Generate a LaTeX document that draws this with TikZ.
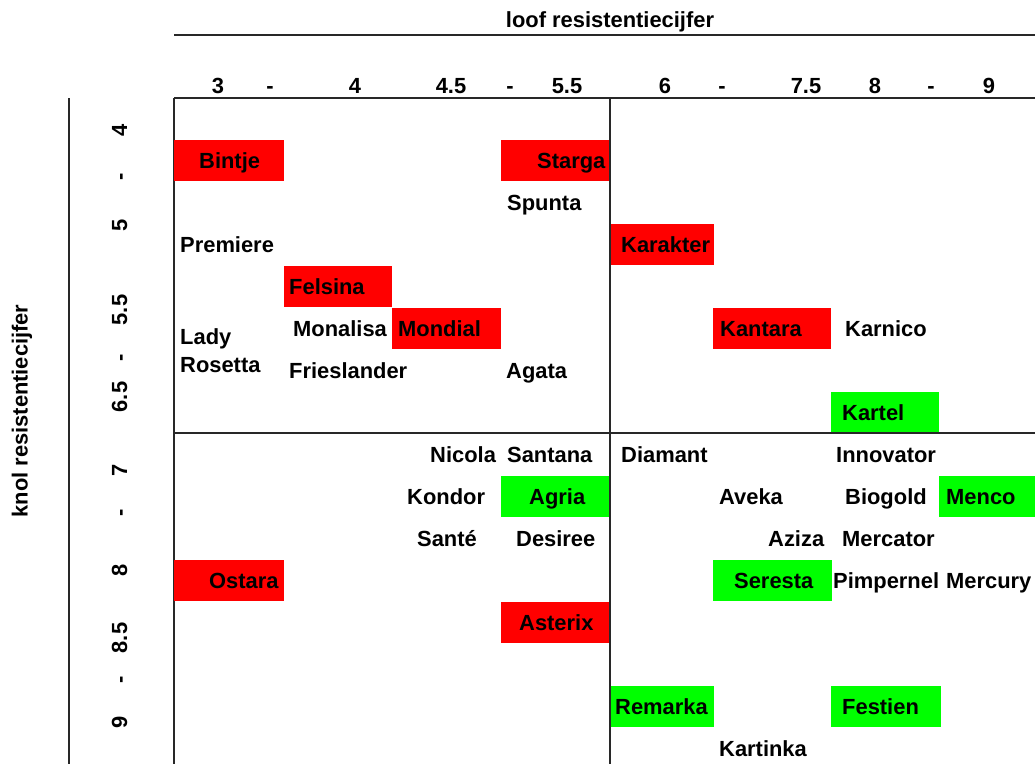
\documentclass[tikz,border=0pt]{standalone}
\usepackage{fontspec}
\setmainfont{Liberation Sans}
\usepackage{tikz}
\usetikzlibrary{calc}
\tikzset{>=latex}
\definecolor{vatbaar}{RGB}{255,0,0}
\definecolor{resistent}{RGB}{0,255,0}
\definecolor{lijn}{RGB}{40,40,40}
\tikzset{ras/.style = {font = \fontsize{21.9}{25}\selectfont\bfseries, inner sep = 0pt, anchor = base west, yshift = -8.5pt},
         cijfer/.style = {font = \fontsize{21.9}{25}\selectfont\bfseries, inner sep = 0pt, anchor = base},
         as/.style = {font = \fontsize{21.9}{25}\selectfont\bfseries, inner sep = 0pt},
         rand/.style = {draw = lijn, line width = 1.4pt}}

\begin{document}
\begin{tikzpicture}[x = 1pt, y = -1pt]
\useasboundingbox (0, 0) rectangle (1035, 764);
% kaders
\draw[rand] (174, 35) -- (1035, 35);
\draw[rand] (174, 98) -- (1035, 98);
\draw[rand] (174, 98) -- (174, 764);
\draw[rand] (610, 98) -- (610, 764);
\draw[rand] (174, 433) -- (1035, 433);
\draw[rand] (69, 98) -- (69, 764);
% assen
\node[as] (loof) at (610, 22) {loof resistentiecijfer};
\node[as, rotate = 90] (knol) at (22, 411) {knol resistentiecijfer};
\node[cijfer] (l3) at (218, 93) {3};
\node[cijfer] (l3b) at (270, 93) {-};
\node[cijfer] (l4) at (355, 93) {4};
\node[cijfer] (l45) at (451, 93) {4.5};
\node[cijfer] (l45b) at (510, 93) {-};
\node[cijfer] (l55) at (567, 93) {5.5};
\node[cijfer] (l6) at (665, 93) {6};
\node[cijfer] (l6b) at (722, 93) {-};
\node[cijfer] (l75) at (806, 93) {7.5};
\node[cijfer] (l8) at (875, 93) {8};
\node[cijfer] (l8b) at (931, 93) {-};
\node[cijfer] (l9) at (989, 93) {9};
\node[cijfer, rotate = 90] (k4) at (127, 130) {4};
\node[cijfer, rotate = 90] (k4b) at (127, 177) {-};
\node[cijfer, rotate = 90] (k5) at (127, 225) {5};
\node[cijfer, rotate = 90] (k55) at (127, 310) {5.5};
\node[cijfer, rotate = 90] (k55b) at (127, 358) {-};
\node[cijfer, rotate = 90] (k65) at (127, 397) {6.5};
\node[cijfer, rotate = 90] (k7) at (127, 470) {7};
\node[cijfer, rotate = 90] (k7b) at (127, 513) {-};
\node[cijfer, rotate = 90] (k8) at (127, 570) {8};
\node[cijfer, rotate = 90] (k85) at (127, 638) {8.5};
\node[cijfer, rotate = 90] (k85b) at (127, 680) {-};
\node[cijfer, rotate = 90] (k9) at (127, 722) {9};
% gekleurde vakken
\fill[vatbaar] (174, 140) rectangle (284, 181);
\fill[vatbaar] (501, 140) rectangle (609, 181);
\fill[vatbaar] (611, 224) rectangle (714, 265);
\fill[vatbaar] (284, 266) rectangle (392, 307);
\fill[vatbaar] (392, 308) rectangle (501, 349);
\fill[vatbaar] (713, 308) rectangle (831, 349);
\fill[resistent] (831, 392) rectangle (939, 432);
\fill[resistent] (501, 476) rectangle (609, 517);
\fill[resistent] (939, 476) rectangle (1035, 517);
\fill[vatbaar] (174, 560) rectangle (284, 601);
\fill[resistent] (713, 560) rectangle (832, 601);
\fill[vatbaar] (501, 602) rectangle (609, 643);
\fill[resistent] (611, 686) rectangle (714, 727);
\fill[resistent] (831, 686) rectangle (941, 727);
% rassen
\node[ras] (bintje) at (199, 160) {Bintje};
\node[ras] (starga) at (537, 160) {Starga};
\node[ras] (spunta) at (507, 202) {Spunta};
\node[ras] (premiere) at (180, 244) {Premiere};
\node[ras] (karakter) at (621, 244) {Karakter};
\node[ras] (felsina) at (289, 286) {Felsina};
\node[ras] (monalisa) at (293, 328) {Monalisa};
\node[ras] (mondial) at (398, 328) {Mondial};
\node[ras] (kantara) at (720, 328) {Kantara};
\node[ras] (karnico) at (845, 328) {Karnico};
\node[ras] (lady) at (180, 336) {Lady};
\node[ras] (rosetta) at (180, 364) {Rosetta};
\node[ras] (frieslander) at (289, 370) {Frieslander};
\node[ras] (agata) at (506, 370) {Agata};
\node[ras] (kartel) at (842, 412) {Kartel};
\node[ras] (nicola) at (430, 454) {Nicola};
\node[ras] (santana) at (507, 454) {Santana};
\node[ras] (diamant) at (621, 454) {Diamant};
\node[ras] (innovator) at (836, 454) {Innovator};
\node[ras] (kondor) at (407, 496) {Kondor};
\node[ras] (agria) at (529, 496) {Agria};
\node[ras] (aveka) at (719, 496) {Aveka};
\node[ras] (biogold) at (845, 496) {Biogold};
\node[ras] (menco) at (946, 496) {Menco};
\node[ras] (sante) at (417, 538) {Santé};
\node[ras] (desiree) at (516, 538) {Desiree};
\node[ras] (aziza) at (768, 538) {Aziza};
\node[ras] (mercator) at (842, 538) {Mercator};
\node[ras] (ostara) at (209, 580) {Ostara};
\node[ras] (seresta) at (734, 580) {Seresta};
\node[ras] (pimpernel) at (833, 580) {Pimpernel};
\node[ras] (mercury) at (946, 580) {Mercury};
\node[ras] (asterix) at (519, 622) {Asterix};
\node[ras] (remarka) at (615, 706) {Remarka};
\node[ras] (festien) at (842, 706) {Festien};
\node[ras] (kartinka) at (719, 748) {Kartinka};
\end{tikzpicture}
\end{document}
